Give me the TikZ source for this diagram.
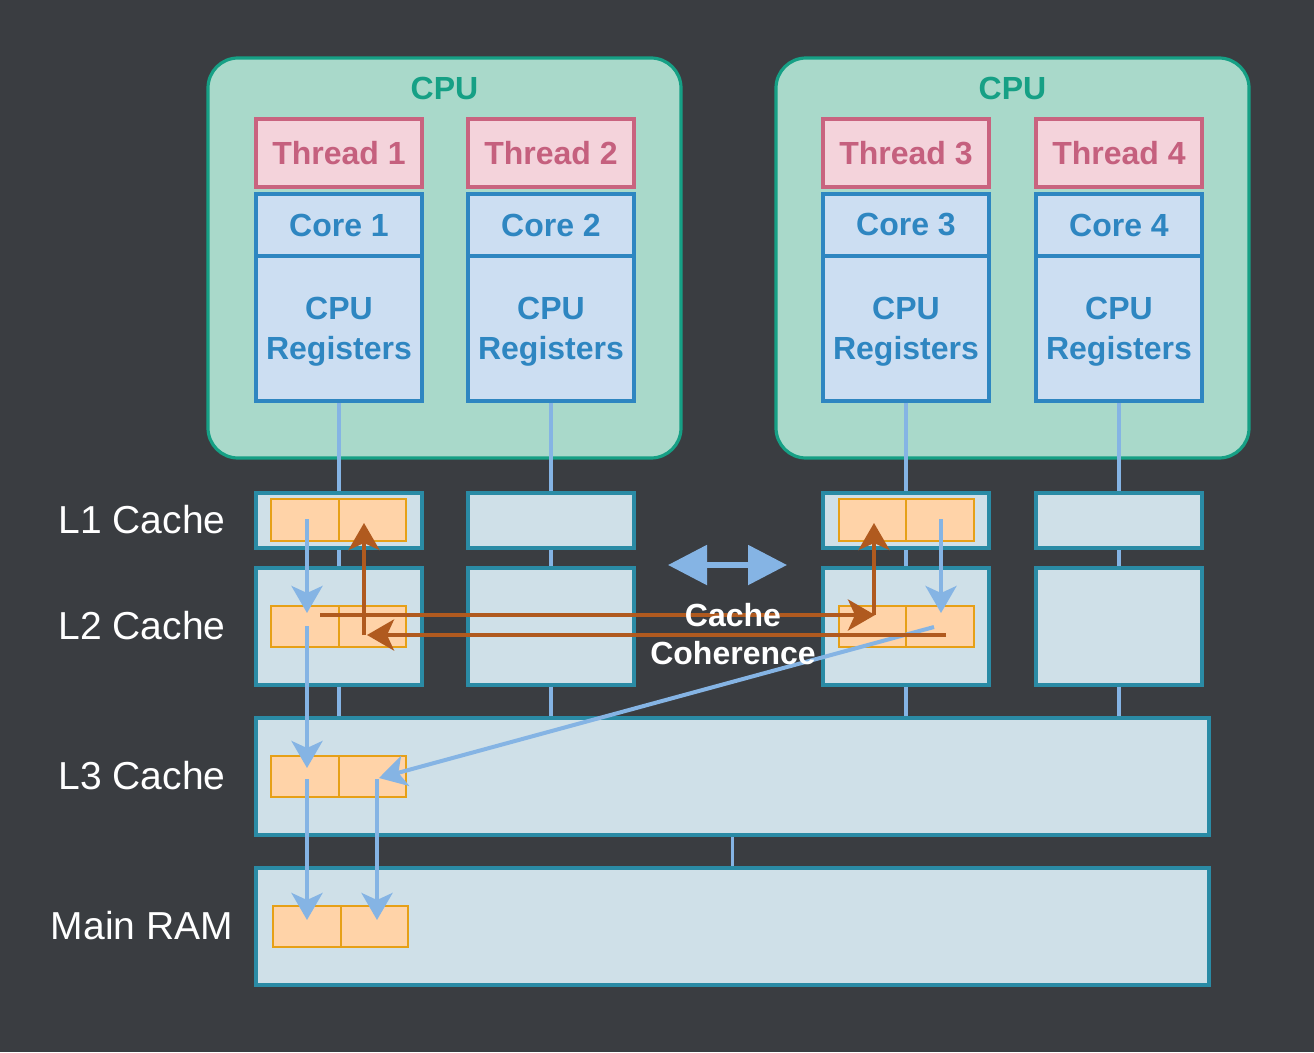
\documentclass[tikz,border=0pt]{standalone}
\usepackage{fontspec}
\setmainfont{Liberation Sans}
\usetikzlibrary{arrows.meta,calc}
\definecolor{bg}{HTML}{3A3D41}
\definecolor{cpufill}{HTML}{A9D9CA}
\definecolor{cpuline}{HTML}{16A085}
\definecolor{thfill}{HTML}{F4D3DB}
\definecolor{thline}{HTML}{C9637F}
\definecolor{thtext}{HTML}{C5607E}
\definecolor{corefill}{HTML}{CCDEF2}
\definecolor{coreline}{HTML}{2E86C1}
\definecolor{cachefill}{HTML}{CFE0E8}
\definecolor{cacheline}{HTML}{2A8BA5}
\definecolor{cellfill}{HTML}{FFD3A8}
\definecolor{cellline}{HTML}{E6A017}
\definecolor{ablue}{HTML}{85B4E4}
\definecolor{aorange}{HTML}{B05A1F}
\begin{document}
\begin{tikzpicture}[x=1pt,y=-1pt,
  cpubox/.style={draw=cpuline, fill=cpufill, line width=3.2pt, rounded corners=30pt, minimum width=473pt, minimum height=400pt, inner sep=0pt},
  cputext/.style={text=cpuline, font=\fontsize{32}{38}\selectfont\bfseries},
  threadbox/.style={draw=thline, fill=thfill, line width=3.4pt, minimum width=166pt, minimum height=68pt, inner sep=0pt, text=thtext, font=\fontsize{32}{38}\selectfont\bfseries},
  corebox/.style={draw=coreline, fill=corefill, line width=3.4pt, minimum width=166pt, minimum height=62pt, inner sep=0pt, text=coreline, font=\fontsize{32}{38}\selectfont\bfseries},
  regbox/.style={draw=coreline, fill=corefill, line width=3.4pt, minimum width=166pt, minimum height=145pt, inner sep=0pt},
  regtext/.style={text=coreline, align=center, font=\fontsize{32}{40}\selectfont\bfseries},
  cachebox/.style={draw=cacheline, fill=cachefill, line width=4pt, inner sep=0pt},
  cell/.style={draw=cellline, fill=cellfill, line width=2pt, minimum width=67.5pt, inner sep=0pt},
  link/.style={draw=ablue, line width=3.4pt},
  barrow/.style={draw=ablue, line width=4pt, -{Stealth[length=27pt,width=31pt,inset=7pt]}},
  oarrow/.style={draw=aorange, line width=4pt, -{Stealth[length=27pt,width=31pt,inset=7pt]}},
  lvl/.style={text=white, font=\fontsize{39}{44}\selectfont}
]
\fill[bg] (0,0) rectangle (1314,1052);
\useasboundingbox (0,0) rectangle (1314,1052);

% CPUs
\node[cpubox] (cpuA) at (444.5,258) {};
\node[cpubox] (cpuB) at (1012.5,258) {};
\node[cputext] (cpuAt) at (444.5,88) {CPU};
\node[cputext] (cpuBt) at (1012.5,88) {CPU};

% threads, cores, registers
\node[threadbox] (th1) at (339,153) {Thread 1};
\node[threadbox] (th2) at (551,153) {Thread 2};
\node[threadbox] (th3) at (906,153) {Thread 3};
\node[threadbox] (th4) at (1119,153) {Thread 4};
\node[corebox] (co1) at (339,225) {Core 1};
\node[corebox] (co2) at (551,225) {Core 2};
\node[corebox] (co3) at (906,225) {Core 3};
\node[corebox] (co4) at (1119,225) {Core 4};
\foreach \i/\x in {1/339,2/551,3/906,4/1119}{
  \node[regbox] (rg\i) at (\x,328.5) {};
  \node[regtext] (rgt\i) at (\x,331.5) {CPU\\Registers};
}

% caches
\foreach \n/\x in {a/339,b/551,c/906,d/1119}{
  \node[cachebox, minimum width=166pt, minimum height=55pt] (l1\n) at (\x,520.5) {};
  \node[cachebox, minimum width=166pt, minimum height=117pt] (l2\n) at (\x,626.5) {};
}
\node[cachebox, minimum width=953pt, minimum height=117pt] (l3) at (732.5,776.5) {};
\node[cachebox, minimum width=953pt, minimum height=117pt] (ram) at (732.5,926.5) {};

% links
\draw[link] (rg1.south) -- (l1a.north);
\draw[link] (rg2.south) -- (l1b.north);
\draw[link] (rg3.south) -- (l1c.north);
\draw[link] (rg4.south) -- (l1d.north);
\foreach \n in {a,b,c,d}{
  \draw[link] (l1\n.south) -- (l2\n.north);
  \draw[link] (l2\n.south) -- (l2\n.south |- l3.north);
}
\draw[link] (l3.south) -- (ram.north);

% cells
\node[cell, minimum height=42pt] (c1a) at (304.75,520) {};
\node[cell, minimum height=42pt] (c1b) at (372.25,520) {};
\node[cell, minimum height=41pt] (c2a) at (304.75,626.5) {};
\node[cell, minimum height=41pt] (c2b) at (372.25,626.5) {};
\node[cell, minimum height=41pt] (c3a) at (304.75,776.5) {};
\node[cell, minimum height=41pt] (c3b) at (372.25,776.5) {};
\node[cell, minimum height=41pt] (c4a) at (306.75,926.5) {};
\node[cell, minimum height=41pt] (c4b) at (374.25,926.5) {};
\node[cell, minimum height=42pt] (r1a) at (872.25,520) {};
\node[cell, minimum height=42pt] (r1b) at (939.75,520) {};
\node[cell, minimum height=41pt] (r2a) at (872.25,626.5) {};
\node[cell, minimum height=41pt] (r2b) at (939.75,626.5) {};

% arrow end points
\coordinate (p1s) at (307,519); \coordinate (p1e) at (307,613);
\coordinate (p2s) at (307,626); \coordinate (p2e) at (307,768);
\coordinate (p3s) at (307,779); \coordinate (p3e) at (307,920);
\coordinate (p4s) at (377,779); \coordinate (p4e) at (377,920);
\coordinate (p5s) at (941,519); \coordinate (p5e) at (941,613);
\coordinate (p6s) at (934,627); \coordinate (p6e) at (379,778);
\coordinate (o1s) at (320,615); \coordinate (o1e) at (875,615);
\coordinate (o2s) at (874,615); \coordinate (o2e) at (874,523);
\coordinate (o3s) at (946,635); \coordinate (o3e) at (367,635);
\coordinate (o4s) at (364,635); \coordinate (o4e) at (364,523);
\coordinate (dbl1) at (668,565); \coordinate (dbl2) at (787,565);

\draw[barrow] (p1s) -- (p1e);
\draw[barrow] (p2s) -- (p2e);
\draw[barrow] (p3s) -- (p3e);
\draw[barrow] (p4s) -- (p4e);
\draw[barrow] (p5s) -- (p5e);
\draw[barrow] (p6s) -- (p6e);
\draw[oarrow] (o1s) -- (o1e);
\draw[oarrow] (o2s) -- (o2e);
\draw[oarrow] (o3s) -- (o3e);
\draw[oarrow] (o4s) -- (o4e);
\draw[draw=ablue, line width=5.5pt, {Triangle[length=39pt,width=39pt]}-{Triangle[length=39pt,width=39pt]}] (dbl1) -- (dbl2);

\node[text=white, align=center, font=\fontsize{32}{38}\selectfont\bfseries] (coh) at (733,634) {Cache\\Coherence};

% level labels
\node[lvl] (lab1) at (142,520) {L1 Cache};
\node[lvl] (lab2) at (142,626) {L2 Cache};
\node[lvl] (lab3) at (142,776) {L3 Cache};
\node[lvl] (lab4) at (142,926) {Main RAM};
\end{tikzpicture}
\end{document}
